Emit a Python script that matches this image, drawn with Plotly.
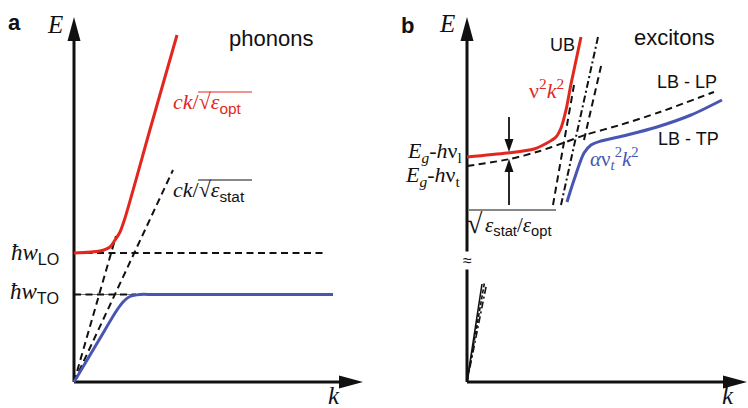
import plotly.graph_objects as go

# ---------------- panel a : phonon polaritons (k, E in arbitrary units) ----------------
k_ub_a = [0.0, 2.6, 3.6, 4.1, 4.6, 5.1, 7.7, 10.3]
E_ub_a = [12.9, 13.1, 13.5, 14.2, 15.0, 16.4, 25.6, 34.7]

k_lb_a = [0.0, 2.5, 4.3, 5.0, 5.6, 6.6, 8.0, 25.9]
E_lb_a = [0.0, 4.2, 7.2, 8.1, 8.55, 8.75, 8.75, 8.75]

k_opt_a = [0.0, 4.2]
E_opt_a = [0.0, 14.6]
k_stat_a = [0.0, 9.9]
E_stat_a = [0.0, 21.2]

E_LO = 12.9
E_TO = 8.75
k_LO_end = 25.1
k_TO_end = 6.2

# ---------------- panel b : exciton polaritons ----------------
k_ub_b = [0.0, 4.0, 6.7, 8.0, 8.9, 9.4, 9.9, 10.4, 11.4]
E_ub_b = [22.5, 22.9, 23.3, 23.9, 24.5, 25.4, 27.2, 29.8, 34.5]

k_lp_b = [0.0, 4.3, 7.3, 9.6, 11.8, 15.3, 19.3, 24.7]
E_lp_b = [21.6, 22.3, 23.1, 23.9, 24.7, 25.7, 27.0, 29.0]

k_tp_b = [10.0, 10.7, 11.7, 12.4, 13.4, 16.0, 19.0, 22.4, 25.5]
E_tp_b = [18.0, 20.2, 22.9, 23.7, 24.1, 24.7, 25.5, 26.7, 28.2]

k_steep1_b = [8.6, 10.7]
E_steep1_b = [17.7, 29.7]
k_steep2_b = [9.4, 13.1]
E_steep2_b = [17.7, 34.5]
k_steep3_b = [11.7, 13.5]
E_steep3_b = [24.2, 32.0]

k_low_b = [[0.0, 1.5], [0.0, 1.75], [0.0, 1.95]]
E_low_b = [[0.0, 9.8], [0.0, 9.95], [0.0, 9.75]]

k_split = 4.2
E_split_top = [26.5, 23.0]
E_split_bottom = [17.7, 22.3]
E_root_bar = 17.2
k_root_bar = [0.2, 8.9]

# axis extents
E_axis_top = 36.5
k_axis_end_a = 28.9
k_axis_end_b = 28.0

RED = "#e2271f"
BLUE = "#4756b2"
BLACK = "#111111"
SERIF = "Liberation Serif"
SANS = "Liberation Sans"
DASH = "7px,4.5px"
DASHDOT = "7px,3px,2px,3px"

fig = go.Figure()


def line(k, E, panel, color=BLACK, width=2.0, dash="solid", shape="linear"):
    xa, ya = ("x", "y") if panel == "a" else ("x2", "y2")
    fig.add_trace(go.Scatter(
        x=k, y=E, xaxis=xa, yaxis=ya, mode="lines",
        line=dict(color=color, width=width, dash=dash, shape=shape, smoothing=0.8),
        hoverinfo="skip", showlegend=False))


def head(tip_k, tip_E, direction, panel, length, half):
    xr, yr = ("x", "y") if panel == "a" else ("x2", "y2")
    if direction == "up":
        pts = [(tip_k, tip_E), (tip_k - half, tip_E - length), (tip_k + half, tip_E - length)]
    elif direction == "down":
        pts = [(tip_k, tip_E), (tip_k - half, tip_E + length), (tip_k + half, tip_E + length)]
    else:  # right
        pts = [(tip_k, tip_E), (tip_k - length, tip_E + half), (tip_k - length, tip_E - half)]
    path = "M" + " L".join(f"{a},{b}" for a, b in pts) + " Z"
    fig.add_shape(type="path", path=path, xref=xr, yref=yr,
                  fillcolor=BLACK, line=dict(color=BLACK, width=0))


def text(k, E, s, panel, size=18, color=BLACK, family=SANS, xanchor="center", yanchor="middle", bg=None):
    xr, yr = ("x", "y") if panel == "a" else ("x2", "y2")
    fig.add_annotation(x=k, y=E, xref=xr, yref=yr, text=s, showarrow=False,
                       font=dict(size=size, color=color, family=family),
                       xanchor=xanchor, yanchor=yanchor,
                       bgcolor=bg, borderpad=0)


def sans(s):
    return f"<span style='font-family:{SANS}'>{s}</span>"


# ---------- panel a ----------
line([0, 0], [0, E_axis_top - 2.0], "a", width=3)
line([0, k_axis_end_a - 2.0], [0, 0], "a", width=3)
head(0, E_axis_top, "up", "a", 2.4, 0.65)
head(k_axis_end_a, 0, "right", "a", 2.4, 0.65)

line([0, k_LO_end], [E_LO, E_LO], "a", dash=DASH)
line([0, k_TO_end], [E_TO, E_TO], "a", color="#777777", width=1.2)
line([0, k_TO_end], [E_TO, E_TO], "a", dash=DASH)
line(k_opt_a, E_opt_a, "a", dash=DASH)
line(k_stat_a, E_stat_a, "a", dash=DASH)
line(k_ub_a, E_ub_a, "a", color=RED, width=3, shape="spline")
line(k_lb_a, E_lb_a, "a", color=BLUE, width=3, shape="spline")

text(-6.0, 36.0, "<b>a</b>", "a", size=22)
text(-1.9, 35.8, "<i>E</i>", "a", size=25, family=SERIF)
text(26.0, -1.3, "<i>k</i>", "a", size=25, family=SERIF)
text(19.7, 34.4, "phonons", "a", size=22)
text(-1.4, 12.8, "<i>ħw</i><sub>" + sans("LO") + "</sub>", "a", size=23, family=SERIF, xanchor="right")
text(-1.4, 8.9, "<i>ħw</i><sub>" + sans("TO") + "</sub>", "a", size=23, family=SERIF, xanchor="right")
text(9.8, 27.9, "<i>ck</i>/√<i>ε</i><sub>" + sans("opt") + "</sub>", "a", size=22,
     color=RED, family=SERIF, xanchor="left")
text(9.8, 19.1, "<i>ck</i>/√<i>ε</i><sub>" + sans("stat") + "</sub>", "a", size=22,
     family=SERIF, xanchor="left")
line([12.4, 17.8], [29.0, 29.0], "a", color=RED, width=1.2)
line([12.4, 17.8], [20.2, 20.2], "a", width=1.2)

# ---------- panel b ----------
line([0, 0], [0, E_axis_top - 2.0], "b", width=3)
line([0, k_axis_end_b - 2.0], [0, 0], "b", width=3)
head(0, E_axis_top, "up", "b", 2.4, 0.65)
head(k_axis_end_b, 0, "right", "b", 2.4, 0.65)

line(k_low_b[0], E_low_b[0], "b", width=1.6)
line(k_low_b[1], E_low_b[1], "b", width=1.6, dash="4px,2px")
line(k_low_b[2], E_low_b[2], "b", width=1.6, dash=DASHDOT)

line(k_lp_b, E_lp_b, "b", dash=DASH, shape="spline")
line(k_steep1_b, E_steep1_b, "b", dash=DASH)
line(k_steep2_b, E_steep2_b, "b", dash=DASHDOT)
line(k_steep3_b, E_steep3_b, "b", dash=DASH)
line(k_ub_b, E_ub_b, "b", color=RED, width=3, shape="spline")
line(k_tp_b, E_tp_b, "b", color=BLUE, width=3, shape="spline")

# splitting arrows and the root bar
line([k_split, k_split], [E_split_top[0], E_split_top[1] + 1.0], "b", width=1.8)
head(k_split, E_split_top[1], "down", "b", 1.3, 0.45)
line([k_split, k_split], [E_split_bottom[0], E_split_bottom[1] - 1.0], "b", width=1.8)
head(k_split, E_split_bottom[1], "up", "b", 1.3, 0.45)
line(k_root_bar, [E_root_bar, E_root_bar], "b", width=1.2)

text(-6.0, 35.7, "<b>b</b>", "b", size=22)
text(-2.0, 35.9, "<i>E</i>", "b", size=25, family=SERIF)
text(26.1, -1.3, "<i>k</i>", "b", size=25, family=SERIF)
text(20.7, 34.5, "excitons", "b", size=22)
text(9.5, 33.7, "UB", "b", size=18)
text(22.0, 30.0, "LB - LP", "b", size=18)
text(22.1, 24.3, "LB - TP", "b", size=18)
text(0.0, 12.2, "≈", "b", size=16, bg="white")
text(-0.4, 23.0, "<i>E</i><sub><i>g</i></sub>-<i>h</i>ν<sub>l</sub>", "b", size=22,
     family=SERIF, xanchor="right")
text(-0.6, 20.6, "<i>E</i><sub><i>g</i></sub>-<i>h</i>ν<sub>t</sub>", "b", size=22,
     family=SERIF, xanchor="right")
text(0.75, 15.9, "√", "b", size=28, family=SERIF)
text(5.1, 15.6, "<i>ε</i><sub>" + sans("stat") + "</sub>/<i>ε</i><sub>" + sans("opt") + "</sub>",
     "b", size=21, family=SERIF)
text(7.9, 29.3, "ν<sup>2</sup><i>k</i><sup>2</sup>", "b", size=22, color=RED, family=SERIF)
text(14.7, 22.4, "<i>α</i>ν<sub><i>t</i></sub><sup>2</sup><i>k</i><sup>2</sup>", "b", size=21,
     color=BLUE, family=SERIF)

axis_common = dict(visible=False, fixedrange=True)
fig.update_layout(
    width=748, height=408,
    margin=dict(l=0, r=0, t=0, b=0),
    paper_bgcolor="white", plot_bgcolor="white",
    xaxis=dict(domain=[0, 0.5], range=[-7.4, 30.0], anchor="y", **axis_common),
    yaxis=dict(domain=[0, 1], range=[-2.6, 38.2], anchor="x", **axis_common),
    xaxis2=dict(domain=[0.5, 1], range=[-9.3, 28.1], anchor="y2", **axis_common),
    yaxis2=dict(domain=[0, 1], range=[-2.6, 38.2], anchor="x2", **axis_common),
)

fig.write_html("out.html")
